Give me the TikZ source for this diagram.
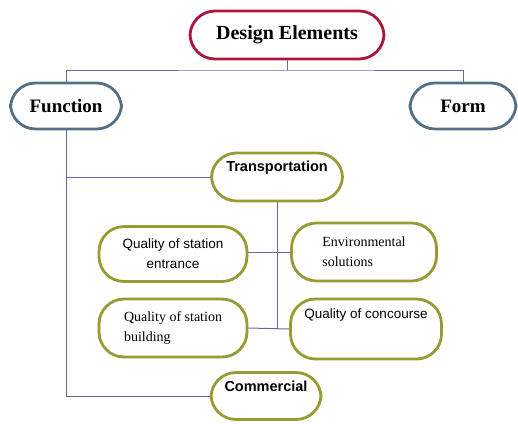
\documentclass[tikz,border=0pt]{standalone}
\usepackage{fontspec}
\setmainfont{Liberation Serif}
\setsansfont{Liberation Sans}
\definecolor{crim}{RGB}{172,22,58}
\definecolor{slate}{RGB}{84,112,132}
\definecolor{olive}{RGB}{150,155,50}
\definecolor{conn}{RGB}{104,104,168}
\begin{document}
\begin{tikzpicture}[x=1pt,y=-1pt,
  pill/.style={draw=#1, fill=white, rounded corners=25pt, inner sep=0pt, line width=2.8pt, align=center},
  topbox/.style={pill=crim, font=\bfseries\fontsize{20}{22}\selectfont},
  midbox/.style={pill=slate, font=\bfseries\fontsize{19}{22}\selectfont},
  sbold/.style={pill=olive, font=\sffamily\bfseries\fontsize{14.5}{18}\selectfont},
  sreg/.style={pill=olive, font=\sffamily\fontsize{13.5}{20}\selectfont},
  rreg/.style={pill=olive, font=\fontsize{14}{20}\selectfont},
  link/.style={draw=conn, line width=1pt}]
\useasboundingbox (0,0) rectangle (518,423);
% nodes
\node[topbox, minimum width=194pt, minimum height=48pt] (de) at (287,35) {Design Elements};
\node[midbox, minimum width=111pt, minimum height=46pt] (fn) at (66,106) {Function};
\node[midbox, minimum width=106pt, minimum height=46pt] (fm) at (463,106) {Form};
\node[sbold, minimum width=131pt, minimum height=48pt, text height=11pt, text depth=23pt] (tr) at (277,177) {Transportation};
\node[sreg, minimum width=148pt, minimum height=55pt] (qe) at (173,254) {Quality of station\\entrance};
\node[rreg, minimum width=145pt, minimum height=58pt, align=left] (es) at (364,252) {Environmental\\solutions};
\node[rreg, minimum width=148pt, minimum height=58pt, align=left] (qb) at (173,328) {Quality of station\\building};
\node[sreg, minimum width=151pt, minimum height=60pt, text height=10pt, text depth=32pt] (qc) at (366,329) {Quality of concourse};
\node[sbold, minimum width=110pt, minimum height=47pt, text height=11pt, text depth=21pt] (cm) at (266,396) {Commercial};
% connectors
\coordinate (j1) at (287,70);
\coordinate (j2) at (277,328);
\draw[link] (de.south) -- (j1);
\draw[link] (fn.north) |- (j1) -| (fm.north);
\draw[link] (fn.south) |- (tr.west);
\draw[link] (fn.south) |- (cm.west);
\draw[link] (tr.south) -- (j2);
\draw[link] (qe.east |- es.west) -- (es.west);
\draw[link] (qb.east) -- (qc.west);
\end{tikzpicture}
\end{document}
